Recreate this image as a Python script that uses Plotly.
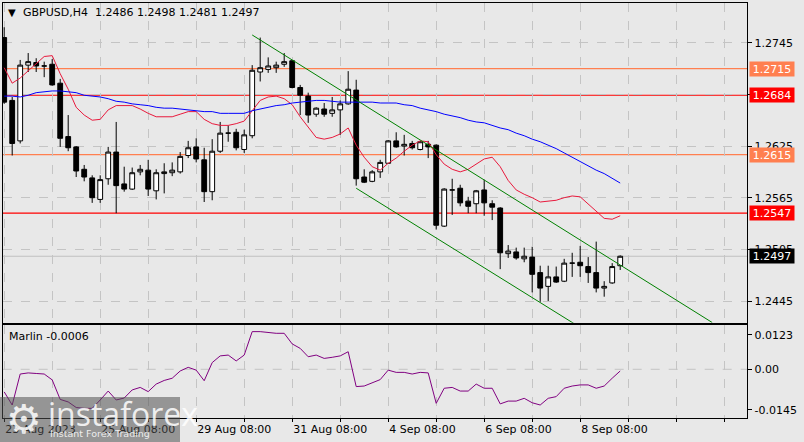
import plotly.graph_objects as go

W, H = 804, 442

# ---------------- data ----------------
bar_index = list(range(78))
opens = [1.2751, 1.2678, 1.2631, 1.2719, 1.2722, 1.2718, 1.2720, 1.2698, 1.2636, 1.2624,
         1.2598, 1.2588, 1.2563, 1.2587, 1.2618, 1.2581, 1.2575, 1.2595, 1.2597, 1.2573,
         1.2593, 1.2594, 1.2595, 1.2614, 1.2624, 1.2609, 1.2572, 1.2619, 1.2640, 1.2641,
         1.2621, 1.2637, 1.2711, 1.2714, 1.2716, 1.2720, 1.2724, 1.2693, 1.2683, 1.2662,
         1.2668, 1.2663, 1.2667, 1.2674, 1.2690, 1.2589, 1.2584, 1.2595, 1.2605, 1.2631,
         1.2625, 1.2628, 1.2621, 1.2627, 1.2626, 1.2532, 1.2574, 1.2576, 1.2561, 1.2558,
         1.2574, 1.2558, 1.2553, 1.2500, 1.2502, 1.2494, 1.2496, 1.2478, 1.2462, 1.2473,
         1.2468, 1.2489, 1.2490, 1.2485, 1.2478, 1.2460, 1.2466, 1.2486]
highs = [1.2763, 1.2682, 1.2725, 1.2733, 1.2727, 1.2723, 1.2726, 1.2703, 1.2661, 1.2625,
         1.2603, 1.2591, 1.2591, 1.2624, 1.2653, 1.2601, 1.2600, 1.2603, 1.2609, 1.2598,
         1.2605, 1.2606, 1.2618, 1.2631, 1.2634, 1.2623, 1.2633, 1.2653, 1.2649, 1.2645,
         1.2644, 1.2719, 1.2751, 1.2728, 1.2723, 1.2733, 1.2725, 1.2696, 1.2687, 1.2670,
         1.2675, 1.2682, 1.2678, 1.2712, 1.2702, 1.2598, 1.2597, 1.2609, 1.2632, 1.2641,
         1.2638, 1.2631, 1.2631, 1.2631, 1.2627, 1.2576, 1.2587, 1.2580, 1.2566, 1.2574,
         1.2586, 1.2562, 1.2554, 1.2510, 1.2507, 1.2507, 1.2508, 1.2486, 1.2486, 1.2485,
         1.2494, 1.2501, 1.2509, 1.2496, 1.2514, 1.2468, 1.2489, 1.2498]
lows = [1.2674, 1.2614, 1.2628, 1.2711, 1.2711, 1.2705, 1.2695, 1.2624, 1.2619, 1.2589,
        1.2584, 1.2559, 1.2559, 1.2580, 1.2547, 1.2572, 1.2574, 1.2591, 1.2567, 1.2563,
        1.2570, 1.2590, 1.2593, 1.2611, 1.2606, 1.2560, 1.2562, 1.2617, 1.2630, 1.2620,
        1.2617, 1.2634, 1.2700, 1.2710, 1.2710, 1.2717, 1.2692, 1.2661, 1.2652, 1.2659,
        1.2659, 1.2659, 1.2638, 1.2673, 1.2579, 1.2582, 1.2583, 1.2588, 1.2605, 1.2623,
        1.2614, 1.2621, 1.2620, 1.2611, 1.2528, 1.2531, 1.2545, 1.2555, 1.2547, 1.2547,
        1.2544, 1.2539, 1.2482, 1.2495, 1.2493, 1.2490, 1.2455, 1.2444, 1.2445, 1.2466,
        1.2467, 1.2473, 1.2473, 1.2466, 1.2455, 1.2450, 1.2465, 1.2481]
closes = [1.2676, 1.2628, 1.2719, 1.2723, 1.2718, 1.2718, 1.2696, 1.2634, 1.2623, 1.2596,
          1.2589, 1.2565, 1.2586, 1.2618, 1.2579, 1.2575, 1.2594, 1.2598, 1.2575, 1.2594,
          1.2595, 1.2597, 1.2613, 1.2623, 1.2610, 1.2572, 1.2619, 1.2640, 1.2640, 1.2623,
          1.2638, 1.2713, 1.2716, 1.2718, 1.2719, 1.2723, 1.2693, 1.2684, 1.2661, 1.2669,
          1.2662, 1.2667, 1.2674, 1.2691, 1.2587, 1.2583, 1.2595, 1.2606, 1.2631, 1.2624,
          1.2627, 1.2623, 1.2630, 1.2624, 1.2533, 1.2575, 1.2574, 1.2559, 1.2555, 1.2573,
          1.2559, 1.2554, 1.2501, 1.2503, 1.2495, 1.2497, 1.2476, 1.2460, 1.2473, 1.2467,
          1.2489, 1.2489, 1.2486, 1.2478, 1.2460, 1.2462, 1.2485, 1.2497]

ma_red = [1.2716, 1.2698, 1.2704, 1.2712, 1.2720, 1.2729, 1.2730, 1.2709, 1.2691, 1.2670,
          1.2661, 1.2655, 1.2656, 1.2667, 1.2672, 1.2672, 1.2672, 1.2668, 1.2663, 1.2659,
          1.2659, 1.2659, 1.2662, 1.2665, 1.2665, 1.2656, 1.2651, 1.2649, 1.2649, 1.2651,
          1.2654, 1.2666, 1.2678, 1.2682, 1.2683, 1.2680, 1.2673, 1.2659, 1.2647, 1.2635,
          1.2633, 1.2635, 1.2639, 1.2646, 1.2626, 1.2612, 1.2601, 1.2597, 1.2605, 1.2611,
          1.2619, 1.2626, 1.2631, 1.2630, 1.2615, 1.2604, 1.2598, 1.2595, 1.2598, 1.2604,
          1.2610, 1.2612, 1.2601, 1.2585, 1.2574, 1.2569, 1.2565, 1.2560, 1.2561, 1.2562,
          1.2565, 1.2567, 1.2566, 1.2558, 1.2549, 1.2541, 1.2540, 1.2544]
ma_blue = [1.2683, 1.2683, 1.2682, 1.2684, 1.2687, 1.2688, 1.2689, 1.2689, 1.2688, 1.2687,
           1.2684, 1.2683, 1.2682, 1.2680, 1.2677, 1.2676, 1.2674, 1.2673, 1.2672, 1.2670,
           1.2669, 1.2669, 1.2668, 1.2667, 1.2666, 1.2665, 1.2665, 1.2663, 1.2663, 1.2663,
           1.2663, 1.2666, 1.2668, 1.2670, 1.2672, 1.2673, 1.2675, 1.2676, 1.2677, 1.2678,
           1.2678, 1.2677, 1.2676, 1.2676, 1.2676, 1.2676, 1.2676, 1.2675, 1.2675, 1.2675,
           1.2673, 1.2672, 1.2669, 1.2667, 1.2665, 1.2662, 1.2660, 1.2658, 1.2655, 1.2653,
           1.2652, 1.2649, 1.2646, 1.2644, 1.2640, 1.2637, 1.2633, 1.2630, 1.2626, 1.2622,
           1.2617, 1.2612, 1.2607, 1.2602, 1.2597, 1.2593, 1.2588, 1.2582]

marlin = [-0.0081, -0.0128, -0.0017, -0.0013, -0.0015, -0.0017, -0.0038, -0.0108, -0.0117, -0.0137,
          -0.0140, -0.0140, -0.0110, -0.0078, -0.0110, -0.0103, -0.0074, -0.0065, -0.0080, -0.0053,
          -0.0040, -0.0032, -0.0006, 0.0007, -0.0003, -0.0041, 0.0024, 0.0048, 0.0051, 0.0030,
          0.0051, 0.0135, 0.0135, 0.0131, 0.0129, 0.0129, 0.0091, 0.0075, 0.0045, 0.0051,
          0.0039, 0.0043, 0.0048, 0.0063, -0.0062, -0.0060, -0.0048, -0.0037, -0.0003, -0.0011,
          -0.0011, -0.0017, -0.0011, -0.0013, -0.0122, -0.0068, -0.0065, -0.0078, -0.0078, -0.0053,
          -0.0068, -0.0068, -0.0124, -0.0114, -0.0114, -0.0104, -0.0120, -0.0128, -0.0104, -0.0098,
          -0.0068, -0.0060, -0.0056, -0.0056, -0.0068, -0.0060, -0.0032, -0.0006]

levels_orange = [1.2715, 1.2615]
levels_red = [1.2684, 1.2547]
last_price = 1.2497

channel_upper_x = [31, 88.5]
channel_upper_y = [1.2754, 1.2420]
channel_lower_x = [44, 75]
channel_lower_y = [1.2576, 1.2397]

grid_ticks = list(range(0, 96, 6))
date_ticks = [0, 12, 24, 36, 48, 60, 72]
date_labels = ["23 Aug 2023", "25 Aug 08:00", "29 Aug 08:00", "31 Aug 08:00",
               "4 Sep 08:00", "6 Sep 08:00", "8 Sep 08:00"]
price_ticks = [1.2445, 1.2505, 1.2565, 1.2625, 1.2685, 1.2745]
price_tick_labels = ["1.2445", "1.2505", "1.2565", "1.2625", "", "1.2745"]
marlin_ticks = [-0.0145, 0.0, 0.0123]
marlin_tick_labels = ["-0.0145", "0.00", "0.0123"]

symbol_title = "GBPUSD,H4  1.2486 1.2498 1.2481 1.2497"
marlin_title = "Marlin -0.0006"

# ---------------- layout geometry (pixels -> paper) ----------------
FONT = "DejaVu Sans"
BG = "#e8e8e8"
GRID = "#c4c4c4"
px = lambda v: v / W
py = lambda v: 1 - v / H

x_left, x_right = 2.7, 747.3
main_top, main_bot = 2.7, 322.7
ind_top, ind_bot = 325.0, 418.3
bar_px = 8.0
bar0_px = 4.2
x_range = [(x_left - bar0_px) / bar_px, (x_right - bar0_px) / bar_px]

fig = go.Figure()

fig.add_trace(go.Candlestick(
    x=bar_index, open=opens, high=highs, low=lows, close=closes,
    increasing=dict(line=dict(color="black", width=1), fillcolor="white"),
    decreasing=dict(line=dict(color="black", width=1), fillcolor="black"),
    whiskerwidth=0, xaxis="x", yaxis="y", showlegend=False, hoverinfo="skip"))

fig.add_trace(go.Scatter(x=bar_index, y=ma_red, mode="lines",
                         line=dict(color="#e8193c", width=1), xaxis="x", yaxis="y",
                         showlegend=False, hoverinfo="skip"))
fig.add_trace(go.Scatter(x=bar_index, y=ma_blue, mode="lines",
                         line=dict(color="#0000ff", width=1), xaxis="x", yaxis="y",
                         showlegend=False, hoverinfo="skip"))
fig.add_trace(go.Scatter(x=channel_upper_x, y=channel_upper_y, mode="lines",
                         line=dict(color="#008000", width=1), xaxis="x", yaxis="y",
                         showlegend=False, hoverinfo="skip"))
fig.add_trace(go.Scatter(x=channel_lower_x, y=channel_lower_y, mode="lines",
                         line=dict(color="#008000", width=1), xaxis="x", yaxis="y",
                         showlegend=False, hoverinfo="skip"))

fig.add_trace(go.Scatter(x=bar_index, y=marlin, mode="lines",
                         line=dict(color="#800080", width=1), xaxis="x2", yaxis="y2",
                         showlegend=False, hoverinfo="skip"))

shapes = []
for lv in levels_orange:
    shapes.append(dict(type="line", xref="x domain", yref="y", x0=0, x1=1, y0=lv, y1=lv,
                       line=dict(color="#ff7f50", width=1.2), layer="below"))
for lv in levels_red:
    shapes.append(dict(type="line", xref="x domain", yref="y", x0=0, x1=1, y0=lv, y1=lv,
                       line=dict(color="#ff0000", width=1.2), layer="below"))
shapes.append(dict(type="line", xref="x domain", yref="y", x0=0, x1=1, y0=last_price, y1=last_price,
                   line=dict(color="#c0c0c0", width=1), layer="below"))
shapes.append(dict(type="line", xref="x2 domain", yref="y2", x0=0, x1=1, y0=0, y1=0,
                   line=dict(color=GRID, width=1, dash="dash"), layer="below"))
# watermark block
shapes.append(dict(type="rect", xref="paper", yref="paper", x0=0, x1=px(180), y0=0, y1=py(397),
                   fillcolor="rgba(80,80,80,0.55)", line=dict(width=0), layer="above"))

annotations = []


def price_box(val, bg):
    annotations.append(dict(xref="paper", yref="y", x=px(749), y=val, xanchor="left", yanchor="middle",
                            text=f"{val:.4f}", showarrow=False, bgcolor=bg, width=42, height=12,
                            borderpad=1, font=dict(family=FONT, size=11, color="white"), align="center"))


for lv in levels_orange:
    price_box(lv, "#ff7f50")
for lv in levels_red:
    price_box(lv, "#ff0000")
price_box(last_price, "#000000")

annotations.append(dict(xref="paper", yref="paper", x=px(6), y=py(12.5), xanchor="left", yanchor="middle",
                        text="▼", showarrow=False, font=dict(family=FONT, size=10, color="black")))
annotations.append(dict(xref="paper", yref="paper", x=px(20.5), y=py(12.5), xanchor="left", yanchor="middle",
                        text=symbol_title.replace("  ", "&nbsp;&nbsp;"), showarrow=False,
                        font=dict(family=FONT, size=11, color="black")))
annotations.append(dict(xref="paper", yref="paper", x=px(6.5), y=py(336), xanchor="left", yanchor="middle",
                        text=marlin_title, showarrow=False, font=dict(family=FONT, size=11, color="black")))
# watermark texts
annotations.append(dict(xref="paper", yref="paper", x=px(24), y=py(419), xanchor="center", yanchor="middle",
                        text="⚙", showarrow=False, font=dict(family=FONT, size=40, color="rgba(255,255,255,0.85)")))
annotations.append(dict(xref="paper", yref="paper", x=px(46), y=py(413), xanchor="left", yanchor="middle",
                        text="instaforex", showarrow=False,
                        font=dict(family="Open Sans", size=32, color="rgba(255,255,255,0.85)")))
annotations.append(dict(xref="paper", yref="paper", x=px(48), y=py(433), xanchor="left", yanchor="middle",
                        text="Instant Forex Trading", showarrow=False,
                        font=dict(family=FONT, size=9.5, color="rgba(255,255,255,0.85)")))

axis_common = dict(showline=True, mirror=True, linecolor="black", linewidth=1, zeroline=False)

date_text = [date_labels[date_ticks.index(t)] if t in date_ticks else "" for t in grid_ticks]

fig.update_layout(
    width=W, height=H, margin=dict(l=0, r=0, t=0, b=0),
    paper_bgcolor=BG, plot_bgcolor=BG,
    font=dict(family=FONT, size=11, color="black"),
    boxgap=0.25, boxgroupgap=0.2,
    showlegend=False,
    xaxis=dict(domain=[px(x_left), px(x_right)], range=x_range, anchor="y",
               tickmode="array", tickvals=grid_ticks, showticklabels=False, ticks="",
               showgrid=True, gridcolor=GRID, griddash="dash", gridwidth=1,
               rangeslider=dict(visible=False), **axis_common),
    yaxis=dict(domain=[py(main_bot), py(main_top)], range=[1.24198, 1.27915], side="right",
               tickmode="array", tickvals=price_ticks, ticktext=price_tick_labels,
               ticks="outside", ticklen=4, tickcolor="black",
               showgrid=True, gridcolor=GRID, griddash="dash", gridwidth=1, anchor="x",
               **axis_common),
    xaxis2=dict(domain=[px(x_left), px(x_right)], range=x_range, anchor="y2",
                tickmode="array", tickvals=grid_ticks, ticktext=date_text,
                ticks="outside", ticklen=3, tickcolor="black", ticklabelposition="outside right",
                showgrid=True, gridcolor=GRID, griddash="dash", gridwidth=1, **axis_common),
    yaxis2=dict(domain=[py(ind_bot), py(ind_top)], range=[-0.01757, 0.01588], side="right",
                tickmode="array", tickvals=marlin_ticks, ticktext=marlin_tick_labels,
                ticks="outside", ticklen=4, tickcolor="black", showgrid=False, anchor="x2",
                **axis_common),
    shapes=shapes, annotations=annotations,
)

fig.write_html("out.html")
